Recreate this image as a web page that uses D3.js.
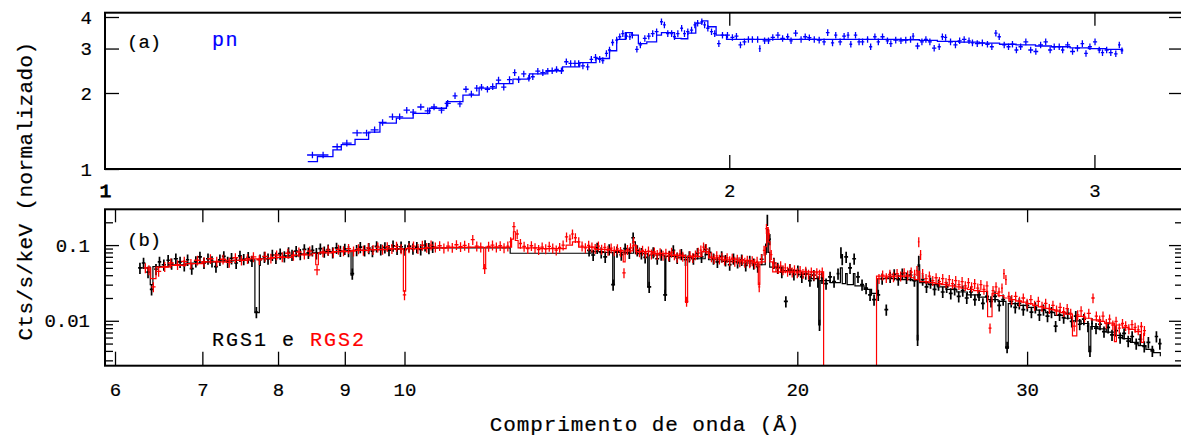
<!DOCTYPE html>
<html><head><meta charset="utf-8">
<script src="https://cdn.jsdelivr.net/npm/d3@7"></script>
<style>
body{margin:0;background:#fff}
svg{display:block}
text{font-family:"Liberation Mono","DejaVu Sans Mono",monospace;fill:#000;stroke:#000;stroke-width:0.2px}
.tick text{font-size:19px;font-family:"Liberation Mono","DejaVu Sans Mono",monospace}
.tick line{stroke:#000;stroke-width:1.3px}
</style>
</head><body><svg id="c" width="1181" height="438"></svg>
<script>
// ---------------- DATA ----------------
// Panel (a): EPIC pn, energy (keV) vs normalised rate
const pnData = [[1.259,1.136],[1.274,1.136],[1.294,1.225],[1.308,1.267],[1.323,1.39],[1.337,1.39],[1.349,1.43],[1.361,1.53],[1.376,1.61],[1.387,1.61],[1.398,1.71],[1.408,1.68],[1.420,1.76],[1.431,1.70],[1.441,1.76],[1.453,1.71],[1.463,1.82],[1.475,1.95],[1.483,1.81],[1.493,2.07],[1.502,1.98],[1.511,2.09],[1.519,2.11],[1.529,2.07],[1.538,2.12],[1.548,2.25],[1.557,2.11],[1.567,2.26],[1.576,2.41],[1.583,2.26],[1.592,2.38],[1.601,2.29],[1.608,2.32],[1.617,2.44],[1.626,2.41],[1.635,2.44],[1.643,2.45],[1.651,2.48],[1.660,2.45],[1.669,2.66],[1.677,2.62],[1.685,2.62],[1.692,2.62],[1.700,2.56],[1.709,2.54],[1.716,2.72],[1.724,2.77],[1.732,2.72],[1.738,2.69],[1.745,2.87],[1.751,2.96],[1.757,3.17],[1.765,3.24],[1.771,3.34],[1.777,3.44],[1.784,3.36],[1.791,3.34],[1.796,3.39],[1.805,2.98],[1.812,3.10],[1.821,3.29],[1.829,3.36],[1.837,3.44],[1.845,3.50],[1.855,3.83],[1.861,3.72],[1.868,3.44],[1.876,3.44],[1.882,3.34],[1.889,3.44],[1.897,3.61],[1.903,3.44],[1.910,3.50],[1.918,3.55],[1.925,3.72],[1.931,3.78],[1.940,3.83],[1.946,3.72],[1.953,3.61],[1.961,3.50],[1.968,3.44],[1.977,3.14],[1.985,3.39],[1.996,3.39],[2.007,3.32],[2.016,3.36],[2.025,3.10],[2.034,3.19],[2.043,3.26],[2.052,3.26],[2.064,3.26],[2.069,3.00],[2.080,3.22],[2.089,3.22],
[2.099,3.32],[2.111,3.39],[2.122,3.29],[2.134,3.34],[2.142,3.22],[2.153,3.45],[2.166,3.26],[2.176,3.34],[2.186,3.31],[2.198,3.26],[2.210,3.24],[2.222,3.19],[2.231,3.47],[2.243,3.16],[2.251,3.39],[2.262,3.19],[2.272,3.36],[2.282,3.39],[2.289,3.12],[2.301,3.39],[2.310,3.19],[2.319,3.19],[2.332,3.26],[2.340,3.05],[2.351,3.34],[2.360,3.19],[2.371,3.34],[2.384,3.22],[2.393,3.14],[2.406,3.24],[2.420,3.22],[2.433,3.24],[2.446,3.26],[2.453,3.36],[2.465,3.07],[2.477,3.19],[2.488,3.26],[2.499,3.19],[2.511,3.01],[2.525,3.05],[2.534,3.34],[2.543,3.32],[2.557,3.19],[2.571,3.10],[2.583,3.22],[2.596,3.26],[2.610,3.22],[2.620,3.16],[2.634,3.14],[2.649,3.16],[2.664,3.12],[2.677,3.05],[2.689,3.45],[2.699,3.34],[2.714,3.10],[2.727,3.05],[2.739,3.12],[2.751,2.96],[2.764,3.05],[2.780,3.19],[2.795,2.96],[2.811,2.92],[2.826,3.10],[2.842,3.19],[2.856,2.96],[2.869,3.05],[2.885,3.05],[2.896,2.96],[2.912,3.10],[2.928,2.92],[2.944,3.01],[2.960,3.14],[2.972,2.87],[2.985,3.05],[3.002,3.19],[3.016,2.96],[3.027,2.89],[3.041,2.96],[3.055,2.89],[3.072,2.86],[3.084,3.10],[3.093,2.94]];
const pnModel = [[1.2525,1.07],[1.266,1.12],[1.288,1.19],[1.30,1.25],[1.32,1.31],[1.34,1.40],[1.357,1.52],[1.382,1.59],[1.408,1.66],[1.434,1.74],[1.461,1.85],[1.488,1.96],[1.515,2.09],[1.544,2.18],[1.573,2.27],[1.602,2.38],[1.632,2.45],[1.662,2.54],[1.694,2.64],[1.725,2.74],[1.751,2.94],[1.765,3.26],[1.782,3.47],[1.795,3.39],[1.808,3.14],[1.825,3.19],[1.845,3.39],[1.855,3.47],[1.869,3.47],[1.882,3.29],[1.896,3.28],[1.910,3.45],[1.927,3.78],[1.940,3.86],[1.953,3.66],[1.971,3.39],[1.994,3.26],[2.115,3.26],[2.30,3.26],[2.42,3.25],[2.47,3.23],[2.52,3.20],[2.58,3.18],[2.64,3.15],[2.70,3.12],[2.75,3.10],[2.81,3.07],[2.86,3.05],[2.92,3.02],[2.98,3.00],[3.04,2.98],[3.095,2.96]];

// Panel (b): RGS1 (black) and RGS2 (red), wavelength (A) vs counts/s/keV
const rgs1Data = [[6.27,0.050],[6.31,0.058],[6.36,0.044],[6.40,0.026],[6.45,0.048],[6.49,0.060],[6.54,0.055],[6.59,0.063],[6.63,0.057],[6.68,0.066],[6.73,0.060],[6.78,0.054],[6.82,0.064],[6.87,0.049],[6.92,0.061],[6.97,0.070],[7.02,0.058],[7.07,0.066],[7.12,0.061],[7.17,0.052],[7.22,0.064],[7.27,0.071],[7.32,0.060],[7.37,0.067],[7.43,0.058],[7.48,0.072],[7.53,0.065],[7.59,0.069],[7.64,0.062],[7.70,0.013],[7.75,0.064],[7.81,0.070],[7.86,0.066],[7.92,0.074],[7.97,0.068],[8.03,0.077],[8.09,0.071],[8.15,0.080],[8.20,0.074],[8.26,0.083],[8.32,0.076],[8.38,0.088],[8.44,0.079],[8.50,0.085],[8.56,0.078],[8.62,0.090],[8.68,0.082],[8.74,0.087],[8.81,0.080],[8.87,0.092],[8.93,0.084],[9.00,0.089],[9.06,0.083],[9.12,0.042],[9.19,0.086],[9.25,0.094],[9.32,0.085],[9.39,0.091],[9.45,0.083],[9.52,0.096],[9.59,0.088],[9.66,0.093],[9.73,0.086],[9.80,0.098],[9.87,0.089],[9.94,0.095],[10.01,0.087],[10.08,0.097],[10.15,0.090],[10.22,0.094],[10.29,0.088],[10.37,0.099],[10.44,0.091],[10.51,0.095],
[13.85,0.085],[13.95,0.074],[14.05,0.092],[14.15,0.080],[14.25,0.070],[14.35,0.088],[14.45,0.030],[14.55,0.082],[14.66,0.075],[14.76,0.090],[14.87,0.079],[14.97,0.125],[15.08,0.085],[15.19,0.078],[15.29,0.069],[15.40,0.028],[15.51,0.080],[15.62,0.066],[15.73,0.075],[15.84,0.022],[15.96,0.072],[16.07,0.085],[16.18,0.068],[16.30,0.076],[16.42,0.064],[16.53,0.071],[16.65,0.066],[16.77,0.078],[16.89,0.070],[17.01,0.088],[17.13,0.080],[17.25,0.066],[17.37,0.060],[17.50,0.071],[17.62,0.063],[17.75,0.055],[17.87,0.066],[18.00,0.059],[18.13,0.064],[18.26,0.054],[18.39,0.062],[18.52,0.057],[18.65,0.052],[18.78,0.065],[18.92,0.090],[18.97,0.215],[19.05,0.120],[19.19,0.058],[19.32,0.050],[19.46,0.044],[19.60,0.018],[19.74,0.048],[19.88,0.041],[20.02,0.046],[20.16,0.038],[20.30,0.042],[20.45,0.034],[20.59,0.040],[20.74,0.033],[20.80,0.0088],[20.89,0.037],[21.04,0.031],[21.19,0.038],[21.34,0.033],[21.49,0.042],[21.60,0.080],[21.65,0.065],[21.80,0.070],[21.95,0.050],[22.11,0.066],[22.26,0.038],[22.42,0.030],[22.58,0.027],[22.74,0.022],[22.90,0.019],[23.07,0.022],[23.23,0.036],[23.40,0.014],[23.56,0.038],[23.73,0.041],[23.90,0.035],[24.07,0.042],[24.25,0.037],[24.42,0.040],[24.59,0.034],[24.73,0.0056],[24.78,0.062],[24.95,0.035],[25.12,0.028],[25.30,0.032],[25.48,0.026],[25.66,0.030],[25.85,0.024],[26.03,0.028],[26.22,0.023],[26.40,0.026],[26.59,0.021],[26.78,0.025],[26.97,0.020],[27.17,0.024],[27.36,0.019],[27.56,0.022],[27.75,0.017],[27.95,0.021],[28.15,0.018],[28.35,0.021],[28.56,0.016],[28.76,0.019],[28.96,0.0045],[29.17,0.018],[29.38,0.015],[29.59,0.017],[29.80,0.014],[30.01,0.016],[30.23,0.013],[30.44,0.015],[30.66,0.012],[30.88,0.014],[31.10,0.0115],[31.32,0.013],[31.55,0.0085],[31.77,0.012],[32.00,0.011],[32.23,0.0125],[32.46,0.0098],[32.69,0.0115],[32.92,0.0090],[33.16,0.0105],[33.40,0.0085],[33.52,0.0040],[33.64,0.0092],[33.88,0.0080],[34.12,0.0090],[34.36,0.0072],[34.61,0.0082],[34.85,0.0065],[35.10,0.0074],[35.35,0.0060],[35.60,0.0068],[35.86,0.0054],[36.11,0.0062],[36.37,0.0050],[36.63,0.0057],[36.89,0.0046],[37.16,0.0052],[37.42,0.0040],[37.69,0.0062],[37.92,0.0050]];
const rgs1Model = [[6.27,0.050],[6.36,0.051],[6.385,0.030],[6.415,0.052],[6.6,0.055],[6.8,0.058],[7.0,0.060],[7.2,0.062],[7.4,0.063],[7.6,0.064],[7.68,0.0128],[7.74,0.066],[7.9,0.068],[8.1,0.072],[8.3,0.076],[8.5,0.079],[8.7,0.082],[9.0,0.084],[9.10,0.040],[9.13,0.085],[9.4,0.087],[9.7,0.089],[10.0,0.090],[10.3,0.091],[10.6,0.092],[12.05,0.078],[13.9,0.082],[14.2,0.080],[14.44,0.030],[14.48,0.080],[14.8,0.078],[14.98,0.110],[15.03,0.077],[15.35,0.075],[15.36,0.028],[15.40,0.074],[15.81,0.072],[15.83,0.022],[15.86,0.071],[16.2,0.069],[16.6,0.066],[17.0,0.075],[17.1,0.064],[17.5,0.061],[18.0,0.058],[18.5,0.055],[18.9,0.080],[18.95,0.160],[19.0,0.080],[19.05,0.051],[19.5,0.046],[20.0,0.041],[20.5,0.036],[20.77,0.0088],[20.82,0.034],[21.2,0.032],[21.58,0.050],[21.65,0.031],[21.78,0.042],[21.84,0.030],[22.08,0.042],[22.14,0.029],[22.5,0.026],[22.8,0.023],[23.05,0.036],[23.5,0.036],[24.0,0.035],[24.5,0.034],[24.71,0.0056],[24.75,0.055],[24.82,0.032],[25.2,0.030],[25.6,0.028],[26.0,0.026],[26.5,0.024],[27.0,0.022],[27.5,0.0205],[28.0,0.019],[28.5,0.018],[28.90,0.0043],[29.02,0.0168],[29.5,0.016],[30.0,0.015],[30.5,0.0138],[31.0,0.0128],[31.5,0.0118],[32.0,0.0108],[32.5,0.0100],[33.0,0.0092],[33.45,0.0039],[33.57,0.0084],[34.0,0.0078],[34.5,0.0071],[35.0,0.0064],[35.5,0.0058],[36.0,0.0052],[36.5,0.0047],[37.0,0.0042],[37.5,0.0038],[37.95,0.0034]];
const rgs2Data = [[6.33,0.050],[6.37,0.047],[6.42,0.028],[6.48,0.045],[6.55,0.052],[6.62,0.058],[6.70,0.055],[6.78,0.061],[6.86,0.057],[6.94,0.063],[7.02,0.060],[7.10,0.066],[7.18,0.061],[7.26,0.065],[7.34,0.059],[7.42,0.068],[7.50,0.063],[7.58,0.066],[7.66,0.070],[7.74,0.064],[7.82,0.071],[7.90,0.067],[7.98,0.074],[8.06,0.070],[8.14,0.078],[8.22,0.073],[8.30,0.081],[8.38,0.076],[8.46,0.083],[8.57,0.047],[8.66,0.081],[8.74,0.086],[8.82,0.080],[8.90,0.088],[8.98,0.084],[9.06,0.090],[9.14,0.083],[9.22,0.089],[9.30,0.085],[9.38,0.092],[9.46,0.087],[9.54,0.094],[9.62,0.088],[9.70,0.095],[9.78,0.090],[9.86,0.096],[9.94,0.089],[10.00,0.022],[10.08,0.092],[10.16,0.097],[10.24,0.090],[10.32,0.099],[10.40,0.093],[10.48,0.100],[10.56,0.094],[10.64,0.098],[10.72,0.091],[10.80,0.097],[10.88,0.093],[10.96,0.101],[11.04,0.095],[11.12,0.099],[11.20,0.093],[11.28,0.118],[11.36,0.097],[11.44,0.094],[11.52,0.049],[11.60,0.096],[11.68,0.100],[11.76,0.094],[11.84,0.098],[11.92,0.092],[12.00,0.097],[12.06,0.110],[12.13,0.175],[12.20,0.140],[12.27,0.105],[12.35,0.096],[12.43,0.090],[12.51,0.098],[12.59,0.092],[12.67,0.087],[12.75,0.094],[12.83,0.089],[12.91,0.096],[12.99,0.091],[13.07,0.086],[13.15,0.093],[13.23,0.100],[13.31,0.128],[13.39,0.120],[13.45,0.140],[13.52,0.125],[13.60,0.110],[13.68,0.097],[13.76,0.092],[13.84,0.099],[13.92,0.094],[14.00,0.090],[14.08,0.097],[14.16,0.088],[14.24,0.093],[14.32,0.085],[14.40,0.091],[14.48,0.084],[14.56,0.089],[14.64,0.082],[14.73,0.043],[14.82,0.087],[14.90,0.092],[14.98,0.110],[15.06,0.088],[15.14,0.081],[15.22,0.085],[15.30,0.078],[15.38,0.083],[15.46,0.076],[15.54,0.081],[15.62,0.075],[15.70,0.079],[15.78,0.073],[15.86,0.078],[15.94,0.072],[16.02,0.080],[16.10,0.074],[16.18,0.069],[16.26,0.076],[16.34,0.071],[16.45,0.018],[16.55,0.072],[16.63,0.068],[16.71,0.074],[16.79,0.080],[16.87,0.086],[16.95,0.094],[17.03,0.090],[17.11,0.078],[17.19,0.070],[17.27,0.066],[17.35,0.072],[17.43,0.065],[17.51,0.069],[17.59,0.063],[17.67,0.068],[17.75,0.062],[17.83,0.067],[17.91,0.061],[17.99,0.065],[18.07,0.060],[18.15,0.064],[18.23,0.059],[18.31,0.063],[18.39,0.058],[18.47,0.062],[18.55,0.057],[18.63,0.061],[18.70,0.028],[18.78,0.066],[18.86,0.085],[18.94,0.165],[19.02,0.140],[19.10,0.075],[19.18,0.058],[19.26,0.052],[19.34,0.049],[19.42,0.053],[19.50,0.047],[19.58,0.050],[19.66,0.045],[19.74,0.049],[19.82,0.044],[19.90,0.047],[20.00,0.043],[20.10,0.046],[20.20,0.042],[20.30,0.045],[20.40,0.041],[20.50,0.044],[20.60,0.040],[20.70,0.043],[20.80,0.041],[20.90,0.044],
[23.10,0.036],[23.25,0.040],[23.40,0.037],[23.55,0.041],[23.70,0.038],[23.85,0.042],[24.00,0.039],[24.15,0.043],[24.30,0.040],[24.45,0.044],[24.60,0.041],[24.70,0.046],[24.78,0.110],[24.86,0.075],[24.95,0.042],[25.10,0.036],[25.25,0.039],[25.40,0.034],[25.55,0.037],[25.70,0.033],[25.85,0.036],[26.00,0.032],[26.15,0.035],[26.30,0.031],[26.45,0.034],[26.60,0.030],[26.75,0.033],[26.90,0.029],[27.05,0.032],[27.20,0.028],[27.35,0.031],[27.50,0.027],[27.65,0.030],[27.80,0.026],[27.95,0.029],[28.10,0.0080],[28.25,0.025],[28.40,0.028],[28.55,0.024],[28.70,0.027],[28.80,0.042],[28.90,0.035],[29.05,0.021],[29.20,0.019],[29.40,0.021],[29.60,0.018],[29.80,0.020],[30.00,0.017],[30.20,0.019],[30.40,0.016],[30.60,0.018],[30.80,0.0155],[31.00,0.017],[31.20,0.0145],[31.40,0.016],[31.60,0.0138],[31.80,0.015],[32.00,0.0132],[32.20,0.0145],[32.40,0.0125],[32.60,0.0085],[32.80,0.012],[33.00,0.0135],[33.20,0.0112],[33.45,0.0125],[33.70,0.020],[33.90,0.0115],[34.10,0.0102],[34.30,0.0115],[34.50,0.0092],[34.70,0.0105],[34.90,0.0088],[35.10,0.0098],[35.30,0.0080],[35.50,0.0092],[35.70,0.0086],[35.90,0.0078],[36.10,0.0089],[36.30,0.0082],[36.50,0.0076],[36.70,0.0084],[36.90,0.0074]];
const rgs2Model = [[6.33,0.050],[6.39,0.036],[6.45,0.051],[6.6,0.054],[6.8,0.057],[7.0,0.060],[7.3,0.063],[7.6,0.066],[7.9,0.069],[8.2,0.074],[8.5,0.078],[8.55,0.055],[8.59,0.079],[8.8,0.082],[9.1,0.085],[9.4,0.087],[9.7,0.089],[9.98,0.0247],[10.02,0.090],[10.4,0.092],[10.8,0.093],[11.2,0.094],[11.50,0.050],[11.54,0.094],[11.9,0.094],[12.08,0.120],[12.12,0.150],[12.16,0.115],[12.22,0.092],[12.7,0.090],[13.3,0.100],[13.45,0.110],[13.6,0.094],[14.0,0.088],[14.4,0.085],[14.71,0.060],[14.76,0.084],[14.96,0.100],[15.04,0.082],[15.5,0.077],[16.0,0.073],[16.42,0.0175],[16.48,0.071],[16.9,0.082],[17.1,0.068],[17.5,0.065],[18.0,0.062],[18.5,0.059],[18.67,0.030],[18.72,0.060],[18.9,0.095],[18.95,0.170],[19.0,0.110],[19.06,0.060],[19.15,0.0444],[20.95,0.001],[23.0,0.039],[24.45,0.037],[24.6,0.035],[24.75,0.045],[24.82,0.033],[25.2,0.032],[25.5,0.031],[25.8,0.030],[26.1,0.029],[26.4,0.028],[26.7,0.027],[27.0,0.026],[27.3,0.025],[27.6,0.0245],[27.98,0.0113],[28.2,0.023],[28.5,0.0215],[28.8,0.020],[29.1,0.019],[29.4,0.0183],[29.7,0.0176],[30.0,0.0168],[30.3,0.0160],[30.6,0.0153],[30.9,0.0146],[31.2,0.0140],[31.5,0.0134],[31.8,0.0128],[32.1,0.0122],[32.5,0.0063],[32.75,0.0114],[33.2,0.0108],[33.6,0.0103],[34.0,0.0098],[34.4,0.0093],[35.0,0.0053],[35.12,0.0088],[35.5,0.0082],[35.9,0.0077],[36.3,0.0072],[36.7,0.0052],[36.85,0.0068],[36.95,0.0068]];

// tick values / labels
const pnXTicks = [1, 2, 3];
const pnYTicks = [1, 2, 3, 4];
const rgsXTicks = [6, 7, 8, 9, 10, 20, 30];
const rgsYMajor = [0.01, 0.1];
const rgsYLabels = ["0.01", "0.1"];
const rgsYMinor = [0.003,0.004,0.005,0.006,0.007,0.008,0.009,0.02,0.03,0.04,0.05,0.06,0.07,0.08,0.09,0.2];

// ---------------- DRAWING ----------------
const W = 1181, H = 438;
const svg = d3.select("#c");
svg.append("rect").attr("width", W).attr("height", H).attr("fill", "#fff");

const fa = {l: 105, r: 1183, t: 12.7, b: 169};
const fb = {l: 105, r: 1183, t: 209.3, b: 365.7};

const xA = d3.scaleLog().domain([1, 3.31]).range([fa.l, fa.r]);
const yA = d3.scaleLog().domain([1, 4.16]).range([fa.b, fa.t]);
const xB = d3.scaleLog().domain([5.895, 39.5]).range([fb.l, fb.r]);
const yB = d3.scaleLog().domain([0.00255, 0.297]).range([fb.b, fb.t]);

const defs = svg.append("defs");
defs.append("clipPath").attr("id", "clipA").append("rect")
  .attr("x", fa.l).attr("y", fa.t).attr("width", fa.r - fa.l).attr("height", fa.b - fa.t);
defs.append("clipPath").attr("id", "clipB").append("rect")
  .attr("x", fb.l).attr("y", fb.t).attr("width", fb.r - fb.l).attr("height", fb.b - fb.t);

function drawPoints(g, data, x, y, errFrac, color, sw) {
  const px = data.map(d => x(d[0]));
  let p = "";
  data.forEach((d, i) => {
    const l = i > 0 ? px[i] - px[i-1] : Infinity;
    const r = i < data.length - 1 ? px[i+1] - px[i] : Infinity;
    const hw = Math.min(l, r) / 2;
    const cx = px[i], cy = y(d[1]);
    const y1 = y(d[1] * (1 + errFrac)), y2 = y(d[1] * (1 - errFrac));
    p += `M${cx - hw},${cy}H${cx + hw}M${cx},${y1}V${y2}`;
  });
  g.append("path").attr("d", p).attr("fill", "none").attr("stroke", color).attr("stroke-width", sw);
}
function drawModel(g, data, x, y, color, sw) {
  const line = d3.line().x(d => x(d[0])).y(d => y(d[1])).curve(d3.curveStepAfter);
  g.append("path").attr("d", line(data)).attr("fill", "none").attr("stroke", color).attr("stroke-width", sw);
}

// Panel (a)
const gA = svg.append("g").attr("clip-path", "url(#clipA)");
drawPoints(gA, pnData, xA, yA, 0.03, "#0000ff", 1.3);
drawModel(gA, pnModel, xA, yA, "#0000ff", 1.3);

// Panel (b)
const gB = svg.append("g").attr("clip-path", "url(#clipB)");
drawPoints(gB, rgs1Data, xB, yB, 0.17, "#000", 1.7);
drawModel(gB, rgs1Model, xB, yB, "#000", 1.2);
drawPoints(gB, rgs2Data, xB, yB, 0.15, "#ff0000", 1.3);
drawModel(gB, rgs2Model, xB, yB, "#ff0000", 1.2);

// Axes
function clean(sel) { sel.select(".domain").remove(); sel.attr("font-size", null).attr("font-family", null); return sel; }

// panel a axes
clean(svg.append("g").attr("transform", `translate(${fa.l},0)`)
  .call(d3.axisLeft(yA).tickValues(pnYTicks).tickSize(-14).tickPadding(13).tickFormat(d3.format("d"))));
clean(svg.append("g").attr("transform", `translate(${fa.r},0)`)
  .call(d3.axisRight(yA).tickValues(pnYTicks.slice(1)).tickSize(-14).tickFormat("")));
const axA = clean(svg.append("g").attr("transform", `translate(0,${fa.b})`)
  .call(d3.axisBottom(xA).tickValues(pnXTicks).tickSize(-14).tickPadding(15).tickFormat(d3.format("d"))));
axA.selectAll(".tick").filter(d => d === 1).select("line").remove();
axA.selectAll(".tick").filter(d => d === 1).select("text").style("stroke-width", "1.1px");
clean(svg.append("g").attr("transform", `translate(0,${fa.t})`)
  .call(d3.axisTop(xA).tickValues(pnXTicks.slice(1)).tickSize(-13).tickFormat("")));

// panel b axes
clean(svg.append("g").attr("transform", `translate(${fb.l},0)`)
  .call(d3.axisLeft(yB).tickValues(rgsYMajor).tickSize(-14).tickPadding(15).tickFormat((d, i) => rgsYLabels[i])));
clean(svg.append("g").attr("transform", `translate(${fb.l},0)`)
  .call(d3.axisLeft(yB).tickValues(rgsYMinor).tickSize(-8).tickFormat("")));
clean(svg.append("g").attr("transform", `translate(${fb.r},0)`)
  .call(d3.axisRight(yB).tickValues(rgsYMajor).tickSize(-14).tickFormat("")));
clean(svg.append("g").attr("transform", `translate(${fb.r},0)`)
  .call(d3.axisRight(yB).tickValues(rgsYMinor).tickSize(-8).tickFormat("")));
clean(svg.append("g").attr("transform", `translate(0,${fb.b})`)
  .call(d3.axisBottom(xB).tickValues(rgsXTicks).tickSize(-14).tickPadding(16.5).tickFormat(d3.format("d"))));
clean(svg.append("g").attr("transform", `translate(0,${fb.t})`)
  .call(d3.axisTop(xB).tickValues(rgsXTicks).tickSize(-13).tickFormat("")));

// frames
[fa, fb].forEach(f => svg.append("rect").attr("x", f.l).attr("y", f.t)
  .attr("width", f.r - f.l).attr("height", f.b - f.t)
  .attr("fill", "none").attr("stroke", "#000").attr("stroke-width", 2));

// labels
svg.append("text").attr("x", 127).attr("y", 48).attr("font-size", 19).text("(a)");
svg.append("text").attr("x", 212).attr("y", 46).attr("font-size", 20).attr("letter-spacing", 1.5)
  .style("fill", "#0000ff").style("stroke", "#0000ff").text("pn");
svg.append("text").attr("x", 127).attr("y", 246).attr("font-size", 19).text("(b)");
const lg = svg.append("text").attr("x", 212).attr("y", 345.5).attr("font-size", 20).attr("letter-spacing", 2);
lg.append("tspan").text("RGS1 e ");
lg.append("tspan").style("fill", "#ff0000").style("stroke", "#ff0000").text("RGS2");

svg.append("text").attr("x", 645).attr("y", 431).attr("text-anchor", "middle")
  .attr("font-size", 21).attr("letter-spacing", 0.9).text("Comprimento de onda (Å)");
svg.append("text").attr("transform", "translate(32,191) rotate(-90)").attr("text-anchor", "middle")
  .attr("font-size", 21).attr("letter-spacing", 0.4).text("Cts/s/keV (normalizado)");
</script>
</body></html>
